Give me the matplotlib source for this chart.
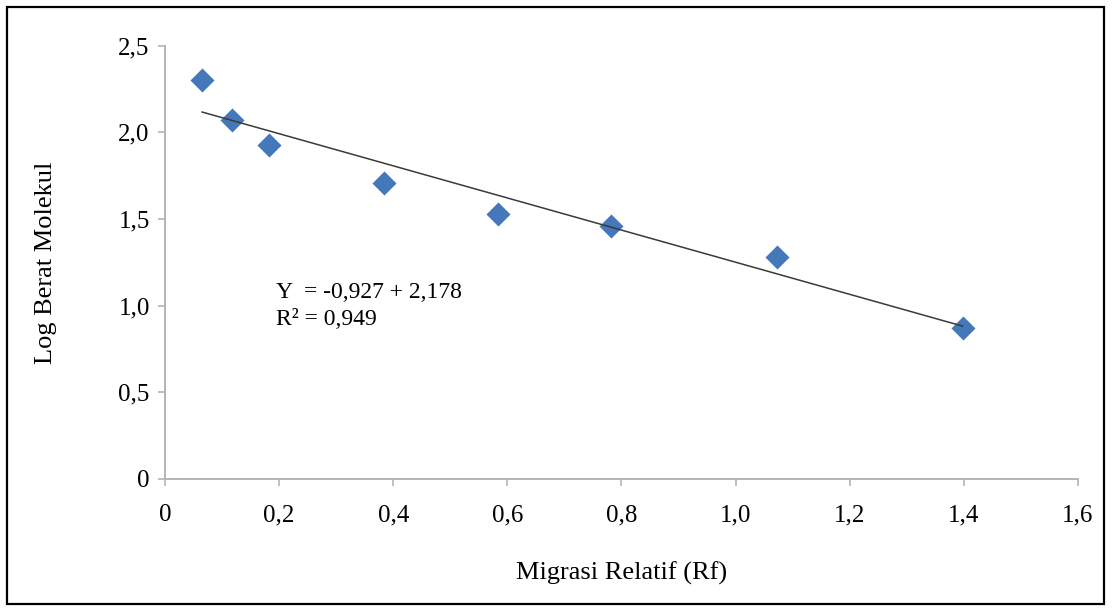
import matplotlib.pyplot as plt
from matplotlib.patches import Rectangle

# data
rf = [0.065, 0.118, 0.183, 0.383, 0.583, 0.782, 1.073, 1.398]
log_bm = [2.305, 2.07, 1.93, 1.71, 1.53, 1.46, 1.28, 0.87]
slope, intercept = -0.927, 2.178
x_ticks = [0, 0.2, 0.4, 0.6, 0.8, 1.0, 1.2, 1.4, 1.6]
x_labels = ["0", "0,2", "0,4", "0,6", "0,8", "1,0", "1,2", "1,4", "1,6"]
y_ticks = [0, 0.5, 1.0, 1.5, 2.0, 2.5]
y_labels = ["0", "0,5", "1,0", "1,5", "2,0", "2,5"]

plt.rcParams["font.family"] = ["Liberation Serif", "DejaVu Serif"]

fig = plt.figure(figsize=(11.12, 6.09), dpi=100)
ax = fig.add_axes([0.1484, 0.2135, 0.8210, 0.7113])

# outer frame around the whole figure
fig.patches.append(Rectangle((7 / 1112, 5 / 609), 1097 / 1112, 597 / 609,
                             transform=fig.transFigure, fill=False,
                             edgecolor="black", linewidth=1.6))

ax.scatter(rf, log_bm, marker="D", s=150, color="#4577bb", zorder=3, linewidths=0)
x_line = [min(rf), max(rf)]
y_line = [intercept + slope * x for x in x_line]
ax.plot(x_line, y_line, color="#3a3a3a", linewidth=1.1, zorder=4)

ax.set_xlim(0, 1.6)
ax.set_ylim(0, 2.5)
ax.set_xticks(x_ticks)
ax.set_xticklabels(x_labels)
ax.set_yticks(y_ticks)
ax.set_yticklabels(y_labels)

for side in ["top", "right"]:
    ax.spines[side].set_visible(False)
for side in ["left", "bottom"]:
    ax.spines[side].set_color("#b4b4b4")
    ax.spines[side].set_linewidth(1.4)

ax.tick_params(axis="both", colors="#b4b4b4", labelcolor="black",
               labelsize=18, length=5, width=1.2)
ax.tick_params(axis="x", pad=13)
ax.tick_params(axis="y", pad=6)

ax.set_xlabel("Migrasi Relatif (Rf)", fontsize=19, labelpad=26)
ax.set_ylabel("Log Berat Molekul", fontsize=19, labelpad=44)

ax.text(0.195, 1.077, "Y  = -0,927 + 2,178", fontsize=17, va="center", ha="left")
ax.text(0.195, 0.92, "R² = 0,949", fontsize=17, va="center", ha="left")

fig.savefig("out.png", dpi=100)
